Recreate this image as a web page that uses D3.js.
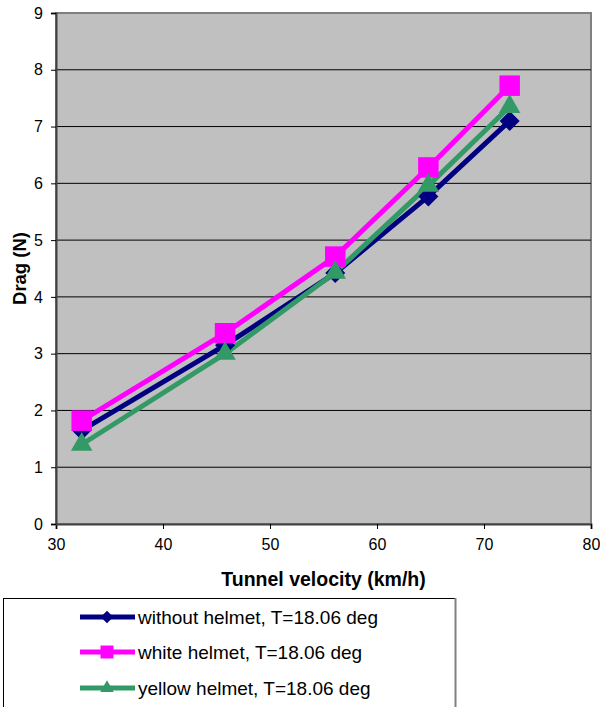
<!DOCTYPE html>
<html>
<head>
<meta charset="utf-8">
<script src="https://cdn.jsdelivr.net/npm/d3@7"></script>
<style>
body { margin: 0; background: #fff; }
text { font-family: "Liberation Sans", Arial, sans-serif; }
</style>
</head>
<body>
<script>
var velocity = [32.4, 45.8, 56.1, 64.8, 72.4];
var withoutHelmet = [1.65, 3.15, 4.42, 5.77, 7.1];
var whiteHelmet = [1.82, 3.36, 4.71, 6.28, 7.72];
var yellowHelmet = [1.4, 3.0, 4.43, 5.96, 7.35];
var seriesNames = ["without helmet, T=18.06 deg", "white helmet, T=18.06 deg", "yellow helmet, T=18.06 deg"];
var xTicks = [30, 40, 50, 60, 70, 80];
var yTicks = [0, 1, 2, 3, 4, 5, 6, 7, 8, 9];

var w = 600, h = 707;
var pLeft = 56, pRight = 591, pTop = 13, pBottom = 524;

var series = [
    {name: seriesNames[0], values: withoutHelmet, color: "#000080", shape: "diamond"},
    {name: seriesNames[1], values: whiteHelmet, color: "#ff00ff", shape: "square"},
    {name: seriesNames[2], values: yellowHelmet, color: "#339966", shape: "triangle"}
];

// marker path + rotation for each shape, at a given scale
function marker(shape, k) {
    if (shape === "diamond") return {d: d3.symbol().type(d3.symbolSquare).size(200 * k)(), rot: 45};
    if (shape === "square") return {d: d3.symbol().type(d3.symbolSquare).size(420 * k)(), rot: 0};
    return {d: d3.symbol().type(d3.symbolTriangle).size(200 * k)(), rot: 0};
}

var xScale = d3.scaleLinear().domain([30, 80]).range([pLeft, pRight]);
var yScale = d3.scaleLinear().domain([0, 9]).range([pBottom, pTop]);

var svg = d3.select("body").append("svg").attr("width", w).attr("height", h);

svg.append("rect")
.attr("x", pLeft).attr("y", pTop)
.attr("width", pRight - pLeft).attr("height", pBottom - pTop)
.attr("fill", "#c0c0c0")
.attr("stroke", "#808080")
.attr("stroke-width", 2);

svg.selectAll("line.grid").data(yTicks.slice(1, -1)).enter().append("line")
.attr("class", "grid")
.attr("x1", pLeft).attr("x2", pRight)
.attr("y1", function(d){ return yScale(d); })
.attr("y2", function(d){ return yScale(d); })
.attr("stroke", "#000").attr("stroke-width", 1);

var xAxis = svg.append("g")
.attr("transform", "translate(0," + pBottom + ")")
.call(d3.axisBottom(xScale).tickValues(xTicks).tickSize(5).tickPadding(10));
var yAxis = svg.append("g")
.attr("transform", "translate(" + pLeft + ",0)")
.call(d3.axisLeft(yScale).tickValues(yTicks).tickSize(5).tickPadding(8));

[xAxis, yAxis].forEach(function(a){
    a.attr("font-size", 16).attr("font-family", "'Liberation Sans', Arial, sans-serif");
    a.select(".domain").attr("stroke", "#404040").attr("stroke-width", 2);
    a.selectAll(".tick line").attr("stroke", "#000");
    a.selectAll(".tick text").attr("fill", "#000");
});

svg.append("text")
.attr("x", (pLeft + pRight) / 2).attr("y", 586)
.attr("text-anchor", "middle")
.attr("font-size", "19.5px").attr("font-weight", "bold")
.text("Tunnel velocity (km/h)");

svg.append("text")
.attr("transform", "translate(26," + ((pTop + pBottom) / 2) + ") rotate(-90)")
.attr("text-anchor", "middle")
.attr("font-size", "18.5px").attr("font-weight", "bold")
.text("Drag (N)");

var line = d3.line()
.x(function(d, i){ return xScale(velocity[i]); })
.y(function(d){ return yScale(d); });

series.forEach(function(s){
    svg.append("path")
    .attr("d", line(s.values))
    .attr("fill", "none")
    .attr("stroke", s.color)
    .attr("stroke-width", 5)
    .attr("stroke-linejoin", "round");
});

series.forEach(function(s){
    var m = marker(s.shape, 1);
    svg.selectAll(null).data(s.values).enter().append("path")
    .attr("d", m.d)
    .attr("transform", function(d, i){
        return "translate(" + xScale(velocity[i]) + "," + yScale(d) + ") rotate(" + m.rot + ")";
    })
    .attr("fill", s.color);
});

// legend
svg.append("rect")
.attr("x", 3.5).attr("y", 598.5)
.attr("width", 452).attr("height", 120)
.attr("fill", "#fff")
.attr("stroke", "#000").attr("stroke-width", 1);
svg.append("line")
.attr("x1", 455.5).attr("x2", 455.5).attr("y1", 598).attr("y2", 707)
.attr("stroke", "#808080").attr("stroke-width", 2);

var legendY = [617, 652, 688];
series.forEach(function(s, i){
    var g = svg.append("g").attr("transform", "translate(0," + legendY[i] + ")");
    g.append("line").attr("x1", 80).attr("x2", 135).attr("y1", 0).attr("y2", 0)
    .attr("stroke", s.color).attr("stroke-width", 5);
    var m = marker(s.shape, 0.4);
    g.append("path").attr("d", m.d)
    .attr("transform", "translate(107,0) rotate(" + m.rot + ")").attr("fill", s.color);
    g.append("text").attr("x", 138).attr("y", 7)
    .attr("font-size", "19px").attr("fill", "#000")
    .text(s.name);
});
</script>
</body>
</html>
